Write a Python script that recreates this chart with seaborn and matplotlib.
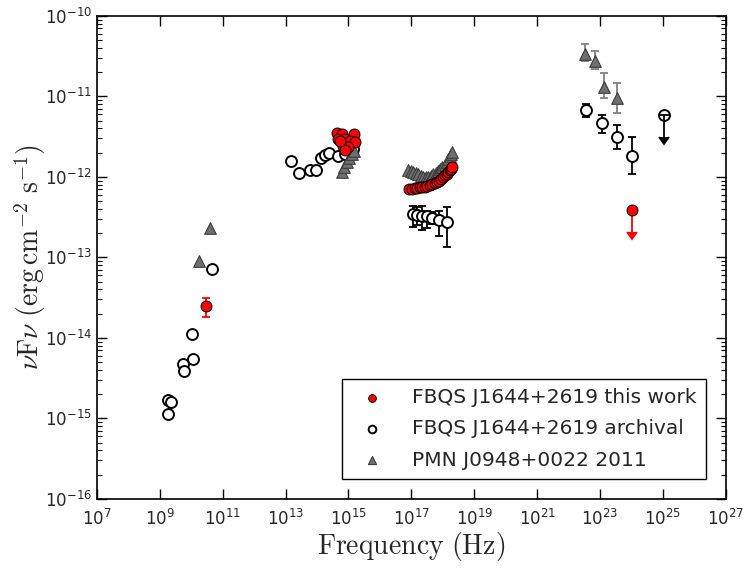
import numpy as np
import matplotlib
matplotlib.use("Agg")
import matplotlib.pyplot as plt
import seaborn as sns
from matplotlib.ticker import FixedLocator, NullLocator, LogLocator, LogFormatterSciNotation

sns.set_style("ticks")
plt.rcParams['font.family'] = ['DejaVu Sans']

# FBQS J1644+2619 this work
work_lognu = [10.47,
              14.62, 14.78, 14.67, 14.88, 15.18, 15.04, 15.20, 14.83, 14.99, 14.88, 14.73,
              16.93, 17.02, 17.11, 17.19, 17.27, 17.35, 17.43, 17.51, 17.59, 17.67,
              17.75, 17.82, 17.88, 17.95, 18.01, 18.07, 18.12, 18.17, 18.22, 18.25, 18.28]
work_logf = [-13.61,
             -11.45, -11.47, -11.53, -11.53, -11.47, -11.55, -11.57, -11.61, -11.63, -11.67, -11.55,
             -12.15, -12.15, -12.14, -12.14, -12.13, -12.125, -12.12, -12.11, -12.10, -12.09,
             -12.07, -12.06, -12.05, -12.03, -12.00, -11.98, -11.96, -11.94, -11.91, -11.90, -11.88]
work_err_lognu = [10.47]
work_err_logf = [-13.61]
work_err_hi = [-13.50]
work_err_lo = [-13.74]
work_ul_lognu = [24.03]
work_ul_logf = [-12.41]
work_ul_end = [-12.69]

# FBQS J1644+2619 archival
arch_lognu = [9.25, 9.34, 9.25, 9.74, 9.78, 10.04, 10.01, 10.66,
              13.16, 13.43, 13.79, 13.96, 14.14, 14.25, 14.39, 14.67, 14.88, 15.14]
arch_logf = [-14.77, -14.80, -14.95, -14.32, -14.41, -14.26, -13.95, -13.14,
             -11.80, -11.95, -11.92, -11.91, -11.76, -11.73, -11.70, -11.74, -11.71, -11.65]
arch_err_lognu = [17.05, 17.17, 17.33, 17.49, 17.65, 17.89, 18.15,
                  22.55, 23.05, 23.54, 24.03]
arch_err_logf = [-12.46, -12.47, -12.48, -12.49, -12.51, -12.53, -12.56,
                 -11.17, -11.33, -11.50, -11.74]
arch_err_hi = [-12.36, -12.38, -12.36, -12.42, -12.44, -12.42, -12.38,
               -11.09, -11.23, -11.36, -11.50]
arch_err_lo = [-12.62, -12.60, -12.66, -12.64, -12.59, -12.73, -12.87,
               -11.25, -11.45, -11.65, -11.96]
arch_ul_lognu = [25.03]
arch_ul_logf = [-11.23]
arch_ul_end = [-11.51]

# PMN J0948+0022 2011
pmn_lognu = [10.25, 10.59,
             14.78, 14.87, 14.94, 15.01, 15.10, 15.18,
             16.90, 16.98, 17.06, 17.14, 17.22, 17.30, 17.38, 17.46, 17.54, 17.62,
             17.69, 17.77, 17.85, 17.92, 17.99, 18.06, 18.12, 18.17, 18.22, 18.26, 18.30]
pmn_logf = [-13.04, -12.64,
            -11.94, -11.88, -11.82, -11.76, -11.71, -11.68,
            -11.92, -11.93, -11.94, -11.955, -11.97, -11.985, -12.00, -12.00, -12.00, -11.99,
            -11.97, -11.95, -11.93, -11.905, -11.88, -11.85, -11.81, -11.78, -11.74, -11.72, -11.69]
pmn_err_lognu = [22.52, 22.83, 23.13, 23.54]
pmn_err_logf = [-10.47, -10.56, -10.88, -11.02]
pmn_err_hi = [-10.35, -10.43, -10.71, -10.83]
pmn_err_lo = [-10.56, -10.66, -11.02, -11.20]


def lin(a):
    return np.power(10.0, np.asarray(a, dtype=float))


def bars(ax, lx, ly, hi, lo, color, z):
    y = lin(ly)
    ax.errorbar(lin(lx), y, yerr=[y - lin(lo), lin(hi) - y], fmt='none', color=color,
                ecolor=color, elinewidth=1.3, capsize=3, capthick=1.3, zorder=z)


def upper(ax, lx, ly, end, color, z):
    y = lin(ly)
    ax.errorbar(lin(lx), y, yerr=y - lin(end), uplims=True, fmt='none', color=color,
                ecolor=color, markerfacecolor=color, markeredgecolor=color,
                elinewidth=1.3, capsize=3.5, capthick=1.3, zorder=z)


fig, ax = plt.subplots(figsize=(7.52, 5.70), dpi=100)
fig.subplots_adjust(left=0.129, right=0.965, top=0.972, bottom=0.125)

tri_fill = '#6f6f6f'
tri_edge = '#3c3c3c'

# archival (white circles)
bars(ax, arch_err_lognu, arch_err_logf, arch_err_hi, arch_err_lo, 'black', 1)
sns.scatterplot(x=lin(arch_lognu + arch_err_lognu), y=lin(arch_logf + arch_err_logf),
                marker='o', s=62, color='white', edgecolor='black', linewidth=1.4,
                ax=ax, zorder=2, label='FBQS J1644+2619 archival')
sns.scatterplot(x=lin(arch_ul_lognu), y=lin(arch_ul_logf), marker='o', s=62,
                color='white', edgecolor='black', linewidth=1.4, ax=ax, zorder=2)
upper(ax, arch_ul_lognu, arch_ul_logf, arch_ul_end, 'black', 3)

# PMN J0948+0022 (grey triangles)
bars(ax, pmn_err_lognu, pmn_err_logf, pmn_err_hi, pmn_err_lo, '#808080', 3)
sns.scatterplot(x=lin(pmn_lognu + pmn_err_lognu), y=lin(pmn_logf + pmn_err_logf),
                marker='^', s=70, color=tri_fill, edgecolor=tri_edge, linewidth=0.8,
                ax=ax, zorder=4, label='PMN J0948+0022 2011')

# this work (red circles)
bars(ax, work_err_lognu, work_err_logf, work_err_hi, work_err_lo, 'red', 5)
upper(ax, work_ul_lognu, work_ul_logf, work_ul_end, 'red', 5)
sns.scatterplot(x=lin(work_lognu + work_ul_lognu), y=lin(work_logf + work_ul_logf),
                marker='o', s=62, color='red', edgecolor='black', linewidth=0.7,
                ax=ax, zorder=6, label='FBQS J1644+2619 this work')

ax.set_xscale('log')
ax.set_yscale('log')
ax.set_xlim(1e7, 1e27)
ax.set_ylim(1e-16, 1e-10)
ax.xaxis.set_major_locator(FixedLocator(lin(np.arange(7, 28, 2))))
ax.xaxis.set_major_formatter(LogFormatterSciNotation())
ax.xaxis.set_minor_locator(NullLocator())
ax.yaxis.set_major_locator(LogLocator(base=10, numticks=20))
ax.yaxis.set_minor_locator(LogLocator(base=10, subs=np.arange(2, 10), numticks=20))
ax.yaxis.set_minor_formatter(plt.NullFormatter())

ax.tick_params(which='both', direction='in', top=True, right=True, labelsize=12, color='black')
ax.tick_params(which='major', length=7, width=1)
ax.tick_params(which='minor', length=3.5, width=0.8)
ax.tick_params(axis='x', pad=7)
for sp in ax.spines.values():
    sp.set_linewidth(1.2)
    sp.set_color('black')

ax.set_xlabel(r'$\mathrm{Frequency\ (Hz)}$', fontsize=20, math_fontfamily='cm', labelpad=1)
ax.set_ylabel(r'$\nu\mathrm{F}\nu\ (\mathrm{erg\,cm^{-2}\ s^{-1}})$', fontsize=20,
              math_fontfamily='cm', labelpad=-2)

handles, labels = ax.get_legend_handles_labels()
order = [labels.index('FBQS J1644+2619 this work'),
         labels.index('FBQS J1644+2619 archival'),
         labels.index('PMN J0948+0022 2011')]
leg = ax.legend([handles[i] for i in order], [labels[i] for i in order],
                loc='lower right', fontsize=14.5, markerscale=0.7, frameon=True,
                fancybox=False, edgecolor='black', framealpha=1, borderaxespad=1.0,
                handletextpad=1.0, borderpad=0.45, labelspacing=0.6)
leg.get_frame().set_linewidth(1.0)

fig.savefig('out.png', dpi=100)
